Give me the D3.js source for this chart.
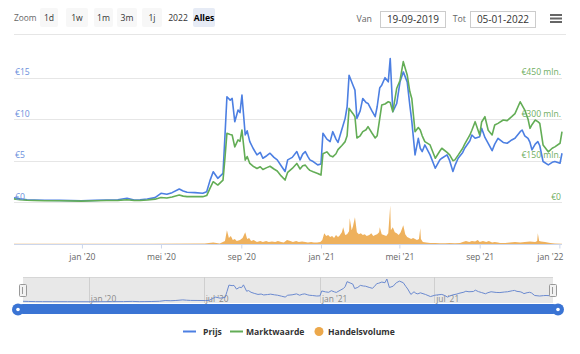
<!DOCTYPE html>
<html>
<head>
<meta charset="utf-8">
<script src="https://cdn.jsdelivr.net/npm/d3@7"></script>
<style>
    body { margin: 0; background: #fff; }
    svg text { font-family: "Open Sans", sans-serif; }
</style>
</head>
<body>
<div id="chart"></div>
<script>
// price (EUR) and market cap (EUR mln) share the same dates
var priceDates = ["2019-09-19","2019-09-28","2019-10-09","2019-10-20","2019-11-05","2019-11-28","2019-12-31","2020-01-21","2020-02-08","2020-02-25",
    "2020-03-10","2020-03-21","2020-03-30","2020-04-10","2020-04-22","2020-05-01","2020-05-10","2020-05-18","2020-05-29","2020-06-04",
    "2020-06-10","2020-06-22","2020-07-04","2020-07-10","2020-07-15","2020-07-20","2020-07-27","2020-08-04","2020-08-07","2020-08-10",
    "2020-08-15","2020-08-18","2020-08-22","2020-08-27","2020-08-30","2020-09-02","2020-09-07","2020-09-10","2020-09-14","2020-09-19",
    "2020-09-25","2020-09-30","2020-10-04","2020-10-10","2020-10-15","2020-10-21","2020-10-26","2020-11-01","2020-11-07","2020-11-11",
    "2020-11-18","2020-11-25","2020-11-30","2020-12-04","2020-12-08","2020-12-12","2020-12-15","2020-12-20","2020-12-27","2021-01-01",
    "2021-01-04","2021-01-10","2021-01-15","2021-01-19","2021-01-24","2021-01-27","2021-02-02","2021-02-07","2021-02-10","2021-02-13",
    "2021-02-19","2021-02-22","2021-02-25","2021-03-02","2021-03-06","2021-03-11","2021-03-14","2021-03-20","2021-03-25","2021-03-28",
    "2021-04-01","2021-04-04","2021-04-09","2021-04-14","2021-04-17","2021-04-21","2021-04-27","2021-05-02","2021-05-07","2021-05-13",
    "2021-05-17","2021-05-20","2021-05-25","2021-05-30","2021-06-02","2021-06-05","2021-06-09","2021-06-17","2021-06-25","2021-07-02",
    "2021-07-05","2021-07-13","2021-07-17","2021-07-22","2021-07-25","2021-07-30","2021-08-06","2021-08-09","2021-08-17","2021-08-20",
    "2021-08-25","2021-09-01","2021-09-04","2021-09-09","2021-09-14","2021-09-20","2021-09-24","2021-09-29","2021-10-07","2021-10-13",
    "2021-10-20","2021-10-25","2021-11-02","2021-11-05","2021-11-09","2021-11-14","2021-11-17","2021-11-20","2021-11-25","2021-11-29",
    "2021-12-02","2021-12-07","2021-12-15","2021-12-21","2021-12-25","2022-01-02","2022-01-05"];

var priceValues = [0.54,0.40,0.30,0.27,0.24,0.22,0.18,0.22,0.27,0.30,
    0.47,0.27,0.30,0.38,0.55,1.07,0.95,1.15,1.59,1.35,
    1.19,1.15,1.07,1.27,2.6,3.67,2.88,3.48,8.0,12.7,
    12.3,12.5,9.7,11.1,10.8,12.9,8.1,8.6,7.3,6.5,
    5.7,6.0,5.3,5.6,5.9,5.4,5.1,4.4,3.7,5.1,
    5.4,6.1,5.1,5.8,6.1,5.5,5.1,4.9,4.5,4.6,
    8.3,7.6,7.3,8.5,7.6,7.2,8.8,10.1,11.5,15.3,
    14.1,13.5,10.1,11.0,12.5,12.0,11.9,11.0,10.3,11.5,
    13.8,14.1,15.0,14.5,17.3,10.9,11.9,14.5,15.7,14.5,
    11.7,9.8,5.7,7.7,6.5,6.1,6.9,5.7,4.1,5.1,
    5.3,5.7,5.0,3.7,4.4,5.3,6.0,6.5,7.4,8.1,
    7.7,7.9,8.9,7.8,7.1,6.2,7.0,7.7,7.2,7.1,
    7.5,7.7,8.5,8.7,8.0,7.7,7.2,6.3,7.0,7.3,
    6.8,4.9,4.5,4.8,4.9,4.7,5.9];

var marketCapValues = [12,9,7,6,5,5,4,5,6,6,
    9,6,6,8,11,17,15,19,26,22,
    20,20,20,24,50,74,62,80,160,249,
    245,243,200,225,220,261,152,165,140,130,
    122,128,118,125,130,120,113,95,80,108,
    122,140,120,132,134,122,115,110,104,98,
    175,182,168,164,175,190,205,219,240,339,
    320,309,232,240,255,262,273,250,232,240,
    303,351,355,363,360,327,412,440,508,460,
    400,375,255,270,261,240,219,207,159,185,
    195,180,171,150,153,170,195,210,243,260,
    291,243,290,309,260,243,279,285,297,295,
    309,320,363,350,333,300,267,280,297,291,
    285,207,182,195,200,213,255];

// trading volume (EUR mln)
var volumeDates = ["2019-09-19","2020-01-29","2020-04-14","2020-07-07","2020-07-20","2020-07-30","2020-08-07","2020-08-10","2020-08-13","2020-08-16",
    "2020-08-19","2020-08-22","2020-08-25","2020-08-30","2020-09-03","2020-09-07","2020-09-10","2020-09-13","2020-09-16","2020-09-20",
    "2020-09-25","2020-09-30","2020-10-04","2020-10-09","2020-10-13","2020-10-18","2020-10-23","2020-10-27","2020-11-01","2020-11-05",
    "2020-11-10","2020-11-15","2020-11-19","2020-11-24","2020-11-28","2020-12-03","2020-12-08","2020-12-12","2020-12-17","2020-12-21",
    "2020-12-26","2020-12-31","2021-01-03","2021-01-06","2021-01-09","2021-01-12","2021-01-15","2021-01-18","2021-01-21","2021-01-24",
    "2021-01-27","2021-01-29","2021-02-02","2021-02-04","2021-02-07","2021-02-10","2021-02-13","2021-02-14","2021-02-17","2021-02-19",
    "2021-02-22","2021-02-25","2021-02-28","2021-03-03","2021-03-06","2021-03-09","2021-03-12","2021-03-16","2021-03-19","2021-03-22",
    "2021-03-25","2021-03-28","2021-03-31","2021-04-01","2021-04-04","2021-04-07","2021-04-11","2021-04-14","2021-04-17","2021-04-18",
    "2021-04-21","2021-04-24","2021-04-27","2021-04-30","2021-05-03","2021-05-07","2021-05-10","2021-05-13","2021-05-16","2021-05-19",
    "2021-05-22","2021-05-25","2021-05-28","2021-05-31","2021-06-02","2021-06-03","2021-06-06","2021-06-11","2021-06-17","2021-06-25",
    "2021-07-02","2021-07-10","2021-07-17","2021-07-25","2021-08-02","2021-08-06","2021-08-11","2021-08-16","2021-08-20","2021-08-25",
    "2021-08-29","2021-09-01","2021-09-06","2021-09-11","2021-09-15","2021-09-20","2021-09-24","2021-09-29","2021-10-02","2021-10-10",
    "2021-10-17","2021-10-25","2021-11-02","2021-11-09","2021-11-17","2021-11-25","2021-11-28","2021-11-29","2021-12-01","2021-12-04",
    "2021-12-10","2021-12-18","2021-12-25","2022-01-05"];

var volumeValues = [0.2,0.2,0.3,0.5,1.5,0.5,3,14,6,8,
    4,5,3,4,6,12,5,6,3,4,
    2,3,2,3,2,2.5,2,3,2,1.5,
    4,3,2,3,2,2.5,2,1.5,2,1.5,
    1.5,2,4,11,8,9,7,8,6,9,
    7,8,12,17,9,10,13,26,14,18,
    27,12,10,11,9,10,8,9,11,8,
    9,10,12,17,10,9,8,11,39,14,
    17,12,11,9,12,19,10,7,6,5,
    6,5,4,5,16,5,2,1.5,1,1,
    0.8,0.8,1,0.8,1,2,3,2,3,2.5,
    4,2,3,2,3,1.5,2,1.5,1,1,
    1.5,2,1.5,2,2.5,2,3,11,3,2.5,
    2,1,0.5,0.3];

var priceTicks = [0, 5, 10, 15];
var priceTickLabels = ["€0", "€5", "€10", "€15"];
var capTicks = [0, 150, 300, 450];
var capTickLabels = ["€0", "€150 mln.", "€300 mln.", "€450 mln."];

var xTickDates = ["2020-01-01","2020-05-01","2020-09-01","2021-01-01","2021-05-01","2021-09-01","2022-01-01"];
var xTickLabels = ["jan '20","mei '20","sep '20","jan '21","mei '21","sep '21","jan '22"];
var navTickDates = ["2020-01-01","2020-07-01","2021-01-01","2021-07-01"];
var navTickLabels = ["jan '20","jul '20","jan '21","jul '21"];

var zoomButtons = ["1d", "1w", "1m", "3m", "1j", "2022", "Alles"];
var rangeStart = "2019-09-19", rangeEnd = "2022-01-05";
var rangeFromText = "19-09-2019", rangeToText = "05-01-2022";
var legendItems = ["Prijs", "Marktwaarde", "Handelsvolume"];

var colPrice = "#4c7fe2",
    colCap = "#63ad56",
    colVolume = "#eca84b";

drawChart();

function drawChart() {
    var width = 580, height = 354;
    var parse = d3.timeParse("%Y-%m-%d");

    var svg = d3.select("#chart").append("svg")
        .attr("width", width)
        .attr("height", height);

    var priceData = priceDates.map(function (d, i) {
        return { date: parse(d), price: priceValues[i], cap: marketCapValues[i] };
    });
    var volumeData = volumeDates.map(function (d, i) {
        return { date: parse(d), value: volumeValues[i] };
    });

    var x = d3.scaleTime()
        .domain([parse(rangeStart), parse(rangeEnd)])
        .range([14, 562]);

    var yPrice = d3.scaleLinear().domain([0, 15]).range([202.2, 77.7]);
    var yCap = d3.scaleLinear().domain([0, 450]).range([202.2, 77.7]);
    var yVol = d3.scaleLinear().domain([0, 40]).range([244, 204.5]);

    // ---- toolbar
    var bar = svg.append("g").attr("class", "toolbar");
    bar.append("text").attr("x", 14).attr("y", 21)
        .attr("font-size", "8.4px").attr("fill", "#666").text("Zoom");

    var btnX = [40, 66, 94, 117, 142, 167, 193],
        btnW = [18, 22, 19, 20, 20, 22, 22];
    zoomButtons.forEach(function (b, i) {
        var active = b === "Alles";
        if (b !== "2022") {
            bar.append("rect").attr("x", btnX[i]).attr("y", 8)
                .attr("width", btnW[i]).attr("height", 19).attr("rx", 2)
                .attr("fill", active ? "#e6ebf5" : "#f7f7f7");
        }
        bar.append("text").attr("x", btnX[i] + btnW[i] / 2).attr("y", 21)
            .attr("text-anchor", "middle")
            .attr("font-size", "8.6px")
            .attr("font-weight", active ? "bold" : "normal")
            .attr("fill", active ? "#000" : "#333")
            .text(b);
    });

    bar.append("text").attr("x", 372).attr("y", 22).attr("text-anchor", "end")
        .attr("font-size", "8.8px").attr("fill", "#666").text("Van");
    bar.append("rect").attr("x", 380.5).attr("y", 11.5).attr("width", 65).attr("height", 16)
        .attr("fill", "#fff").attr("stroke", "#ccc");
    bar.append("text").attr("x", 413).attr("y", 23).attr("text-anchor", "middle")
        .attr("font-size", "10px").attr("fill", "#333").text(rangeFromText);

    bar.append("text").attr("x", 466).attr("y", 22).attr("text-anchor", "end")
        .attr("font-size", "8.8px").attr("fill", "#666").text("Tot");
    bar.append("rect").attr("x", 470.5).attr("y", 11.5).attr("width", 65).attr("height", 16)
        .attr("fill", "#fff").attr("stroke", "#ccc");
    bar.append("text").attr("x", 503).attr("y", 23).attr("text-anchor", "middle")
        .attr("font-size", "10px").attr("fill", "#333").text(rangeToText);

    [15, 18.5, 22].forEach(function (yy) {
        bar.append("line").attr("x1", 550).attr("x2", 562).attr("y1", yy).attr("y2", yy)
            .attr("stroke", "#666").attr("stroke-width", 2);
    });

    svg.append("line").attr("x1", 14).attr("x2", 566).attr("y1", 34.5).attr("y2", 34.5)
        .attr("stroke", "#e6e6e6");

    // ---- grid
    svg.append("g").selectAll("line")
        .data(priceTicks)
        .enter().append("line")
        .attr("x1", 14).attr("x2", 562)
        .attr("y1", function (d) { return Math.round(yPrice(d)) + 0.5; })
        .attr("y2", function (d) { return Math.round(yPrice(d)) + 0.5; })
        .attr("stroke", "#e6e6e6");

    // volume pane baseline + ticks
    svg.append("line").attr("x1", 14).attr("x2", 562).attr("y1", 244.5).attr("y2", 244.5)
        .attr("stroke", "#ccd6eb");

    var xAxis = d3.axisBottom(x)
        .tickValues(xTickDates.map(parse))
        .tickSize(4)
        .tickPadding(5)
        .tickFormat(function (d, i) { return xTickLabels[i]; });

    var gx = svg.append("g")
        .attr("transform", "translate(0,244.5)")
        .call(xAxis);
    gx.select(".domain").remove();
    gx.selectAll(".tick line").attr("stroke", "#ccd6eb");
    gx.selectAll(".tick text")
        .attr("font-size", "8.6px")
        .attr("fill", "#666")
        .attr("font-family", "Open Sans, sans-serif");
    // keep the last label inside the chart
    gx.selectAll(".tick text").each(function () {
        var node = this, box = node.getBBox();
        var tx = d3.select(node.parentNode).attr("transform").match(/translate\(([\d.]+)/);
        var cx = parseFloat(tx[1]);
        if (cx + box.x + box.width > 564) {
            d3.select(node).attr("x", 564 - cx - box.width / 2);
        }
    });

    // ---- volume
    var volArea = d3.area()
        .x(function (d) { return x(d.date); })
        .y0(yVol(0))
        .y1(function (d) { return yVol(d.value); });
    svg.append("path").datum(volumeData)
        .attr("d", volArea)
        .attr("fill", colVolume)
        .attr("fill-opacity", 0.9);

    // ---- price + market cap lines
    var priceLine = d3.line()
        .x(function (d) { return x(d.date); })
        .y(function (d) { return yPrice(d.price); });
    var capLine = d3.line()
        .x(function (d) { return x(d.date); })
        .y(function (d) { return yCap(d.cap); });

    svg.append("path").datum(priceData)
        .attr("d", priceLine)
        .attr("fill", "none")
        .attr("stroke", colPrice)
        .attr("stroke-width", 1.6)
        .attr("stroke-linejoin", "round");

    svg.append("path").datum(priceData)
        .attr("d", capLine)
        .attr("fill", "none")
        .attr("stroke", colCap)
        .attr("stroke-width", 1.6)
        .attr("stroke-linejoin", "round");

    // axis labels
    svg.append("g").selectAll("text")
        .data(priceTicks)
        .enter().append("text")
        .attr("x", 15)
        .attr("y", function (d) { return yPrice(d) - 2.5; })
        .attr("font-size", "8.6px")
        .attr("fill", "#6b8fdc")
        .text(function (d, i) { return priceTickLabels[i]; });

    svg.append("g").selectAll("text")
        .data(capTicks)
        .enter().append("text")
        .attr("x", 561)
        .attr("y", function (d) { return yCap(d) - 2.5; })
        .attr("text-anchor", "end")
        .attr("font-size", "8.6px")
        .attr("fill", "#6fae5f")
        .text(function (d, i) { return capTickLabels[i]; });

    // ---- navigator
    var xNav = d3.scaleTime()
        .domain(x.domain())
        .range([23, 553]);
    var yNav = d3.scaleLinear()
        .domain([0, d3.max(priceValues)])
        .range([302, 279]);

    svg.append("rect").attr("x", 23).attr("y", 277)
        .attr("width", 530).attr("height", 26)
        .attr("fill", "#e8e8e8");
    svg.append("line").attr("x1", 23).attr("x2", 553).attr("y1", 277.5).attr("y2", 277.5)
        .attr("stroke", "#d6d6d6");

    var navTicks = navTickDates.map(parse);
    svg.append("g").selectAll("line")
        .data(navTicks)
        .enter().append("line")
        .attr("x1", function (d) { return Math.round(xNav(d)) + 0.5; })
        .attr("x2", function (d) { return Math.round(xNav(d)) + 0.5; })
        .attr("y1", 277).attr("y2", 303)
        .attr("stroke", "#cfcfcf");
    svg.append("g").selectAll("text")
        .data(navTicks)
        .enter().append("text")
        .attr("x", function (d) { return xNav(d) + 2; })
        .attr("y", 302)
        .attr("font-size", "8.4px")
        .attr("fill", "#888")
        .text(function (d, i) { return navTickLabels[i]; });

    var navLine = d3.line()
        .x(function (d) { return xNav(d.date); })
        .y(function (d) { return yNav(d.price); });
    svg.append("path").datum(priceData)
        .attr("d", navLine)
        .attr("fill", "none")
        .attr("stroke", "#6b8ad0")
        .attr("stroke-width", 1);

    // navigator handles
    [23, 553].forEach(function (hx) {
        svg.append("rect").attr("x", hx - 3.5).attr("y", 284.5)
            .attr("width", 7).attr("height", 12).attr("rx", 1)
            .attr("fill", "#f2f2f2").attr("stroke", "#999");
        svg.append("line").attr("x1", hx - 0.5).attr("x2", hx - 0.5)
            .attr("y1", 287).attr("y2", 294).attr("stroke", "#999");
    });

    // scrollbar
    svg.append("rect").attr("x", 18).attr("y", 304)
        .attr("width", 540).attr("height", 10).attr("rx", 5)
        .attr("fill", "#3a74d4");
    [18, 558].forEach(function (cx) {
        svg.append("circle").attr("cx", cx).attr("cy", 309.5).attr("r", 6)
            .attr("fill", "#3a74d4");
        svg.append("circle").attr("cx", cx).attr("cy", 309.5).attr("r", 1.8)
            .attr("fill", "#fff");
    });

    // ---- legend
    var lg = svg.append("g").attr("class", "legend");
    lg.append("line").attr("x1", 183).attr("x2", 196).attr("y1", 331.5).attr("y2", 331.5)
        .attr("stroke", colPrice).attr("stroke-width", 2);
    lg.append("text").attr("x", 203).attr("y", 335)
        .attr("font-size", "8.6px").attr("font-weight", "bold").attr("fill", "#333")
        .text(legendItems[0]);
    lg.append("line").attr("x1", 230).attr("x2", 243).attr("y1", 331.5).attr("y2", 331.5)
        .attr("stroke", colCap).attr("stroke-width", 2);
    lg.append("text").attr("x", 246).attr("y", 335)
        .attr("font-size", "8.6px").attr("font-weight", "bold").attr("fill", "#333")
        .text(legendItems[1]);
    lg.append("circle").attr("cx", 319).attr("cy", 331.5).attr("r", 4.5)
        .attr("fill", colVolume);
    lg.append("text").attr("x", 328).attr("y", 335)
        .attr("font-size", "8.6px").attr("font-weight", "bold").attr("fill", "#333")
        .text(legendItems[2]);
}
</script>
</body>
</html>
